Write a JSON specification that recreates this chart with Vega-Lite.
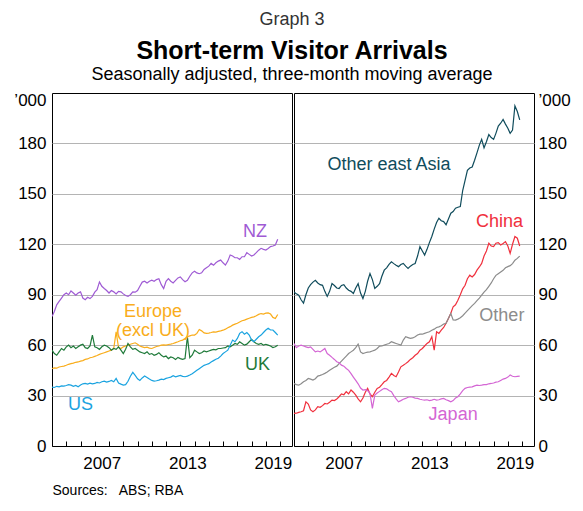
{
  "$schema": "https://vega.github.io/schema/vega-lite/v6.json",
  "background": "white",
  "padding": {"left": 13, "top": 10, "right": 5, "bottom": 5},
  "config": {
    "font": "Liberation Sans",
    "view": {"stroke": "#000000", "strokeWidth": 1},
    "concat": {"spacing": 0}
  },
  "title": {
    "text": "Graph 3",
    "subtitle": "Short-term Visitor Arrivals",
    "anchor": "middle",
    "fontSize": 18,
    "fontWeight": "normal",
    "color": "#333333",
    "subtitleFontSize": 25,
    "subtitleFontWeight": "bold",
    "subtitleColor": "#000000",
    "subtitlePadding": 10,
    "offset": 2
  },
  "datasets": {
    "arrivals": [
      {"d":"2004-01","NZ":77,"Europe":46.1,"UK":57,"US":35,"OEA":91.7,"China":19.4,"Other":37.2,"Japan":61},
      {"d":"2004-03","NZ":80,"Europe":46.5,"UK":55,"US":34.8,"OEA":90.5,"China":19.5,"Other":36.5,"Japan":58.5},
      {"d":"2004-05","NZ":84,"Europe":46.3,"UK":54,"US":35.5,"OEA":89.7,"China":20,"Other":36.2,"Japan":59.5},
      {"d":"2004-07","NZ":86,"Europe":47.0,"UK":56,"US":35.2,"OEA":87,"China":20.4,"Other":37,"Japan":60},
      {"d":"2004-09","NZ":88,"Europe":47.3,"UK":58,"US":35.8,"OEA":85,"China":21,"Other":38.2,"Japan":59.5},
      {"d":"2004-11","NZ":90,"Europe":47.5,"UK":57,"US":35.6,"OEA":90,"China":26.3,"Other":39,"Japan":59},
      {"d":"2005-01","NZ":91,"Europe":48.0,"UK":59,"US":36.0,"OEA":94,"China":25,"Other":40.2,"Japan":58.5},
      {"d":"2005-03","NZ":90,"Europe":48.6,"UK":60,"US":36.5,"OEA":96,"China":21.5,"Other":39.8,"Japan":59},
      {"d":"2005-05","NZ":92.3,"Europe":49.0,"UK":58.5,"US":36.2,"OEA":97.5,"China":20.4,"Other":39.2,"Japan":57.5},
      {"d":"2005-07","NZ":91,"Europe":49.3,"UK":59.5,"US":35.5,"OEA":98.6,"China":21.5,"Other":40,"Japan":56},
      {"d":"2005-09","NZ":89.7,"Europe":49.8,"UK":58,"US":36.0,"OEA":97,"China":23.4,"Other":41.6,"Japan":56.5},
      {"d":"2005-11","NZ":91,"Europe":50.0,"UK":59,"US":35.2,"OEA":96,"China":23,"Other":42,"Japan":56},
      {"d":"2006-01","NZ":91.7,"Europe":50.5,"UK":60,"US":36.3,"OEA":95.6,"China":24,"Other":42.5,"Japan":57},
      {"d":"2006-03","NZ":88,"Europe":50.8,"UK":60.6,"US":37.0,"OEA":92,"China":25.3,"Other":43.2,"Japan":58},
      {"d":"2006-05","NZ":87,"Europe":51.5,"UK":58.5,"US":37.2,"OEA":89,"China":25,"Other":44,"Japan":55},
      {"d":"2006-07","NZ":88.5,"Europe":51.8,"UK":58,"US":36.8,"OEA":92,"China":26,"Other":45.1,"Japan":54},
      {"d":"2006-09","NZ":87.7,"Europe":52.5,"UK":59.5,"US":37.4,"OEA":96.6,"China":27.3,"Other":46,"Japan":52.7},
      {"d":"2006-11","NZ":89,"Europe":52.8,"UK":66,"US":37.0,"OEA":95.5,"China":27,"Other":46.8,"Japan":51.5},
      {"d":"2007-01","NZ":91.5,"Europe":53.3,"UK":59,"US":37.2,"OEA":94,"China":28,"Other":47.5,"Japan":50.1},
      {"d":"2007-03","NZ":93,"Europe":53.8,"UK":58.5,"US":37.8,"OEA":93.7,"China":29.3,"Other":49,"Japan":49.5},
      {"d":"2007-05","NZ":97.6,"Europe":54.5,"UK":57.5,"US":37.5,"OEA":95.5,"China":31,"Other":50.5,"Japan":48.1},
      {"d":"2007-07","NZ":95,"Europe":55.0,"UK":59,"US":38.2,"OEA":96,"China":30.5,"Other":52,"Japan":47.5},
      {"d":"2007-09","NZ":93.7,"Europe":55.5,"UK":60,"US":38.6,"OEA":94,"China":32.3,"Other":53.5,"Japan":46.1},
      {"d":"2007-11","NZ":92.5,"Europe":56.0,"UK":59.5,"US":38.0,"OEA":92.7,"China":31,"Other":55,"Japan":45},
      {"d":"2008-01","NZ":91,"Europe":56.5,"UK":58.5,"US":38.4,"OEA":92,"China":33.3,"Other":56,"Japan":43},
      {"d":"2008-03","NZ":92.5,"Europe":57.0,"UK":57,"US":39.0,"OEA":90.7,"China":32,"Other":57,"Japan":41},
      {"d":"2008-05","NZ":91.7,"Europe":58.0,"UK":58,"US":38.2,"OEA":94,"China":30.3,"Other":58.5,"Japan":39},
      {"d":"2008-07","NZ":90.5,"Europe":67.9,"UK":57.5,"US":40.2,"OEA":96.6,"China":28,"Other":60.6,"Japan":37},
      {"d":"2008-09","NZ":92,"Europe":58.5,"UK":59,"US":37.5,"OEA":91,"China":26.3,"Other":56,"Japan":34.5},
      {"d":"2008-11","NZ":91.7,"Europe":58.0,"UK":57,"US":36.8,"OEA":87.7,"China":28.5,"Other":55,"Japan":33.3},
      {"d":"2009-01","NZ":90.5,"Europe":59.0,"UK":55,"US":36.2,"OEA":92,"China":32,"Other":55.5,"Japan":33.5},
      {"d":"2009-03","NZ":89.5,"Europe":59.5,"UK":57.5,"US":36.5,"OEA":98,"China":34.3,"Other":55.8,"Japan":33},
      {"d":"2009-05","NZ":89,"Europe":60.0,"UK":61,"US":38.5,"OEA":102.6,"China":31,"Other":56,"Japan":31.3},
      {"d":"2009-07","NZ":90,"Europe":60.5,"UK":59,"US":41.5,"OEA":99,"China":29.3,"Other":56.5,"Japan":22.4},
      {"d":"2009-09","NZ":91.7,"Europe":61.0,"UK":57.5,"US":43.8,"OEA":93.7,"China":32,"Other":57,"Japan":30.3},
      {"d":"2009-11","NZ":91.5,"Europe":61.4,"UK":58,"US":42.0,"OEA":95,"China":34.3,"Other":58,"Japan":31.5},
      {"d":"2010-01","NZ":92.5,"Europe":60.5,"UK":57,"US":40.0,"OEA":96.6,"China":35,"Other":59.4,"Japan":32.5},
      {"d":"2010-03","NZ":95,"Europe":59.5,"UK":56,"US":39.0,"OEA":101,"China":36.5,"Other":59.5,"Japan":33.5},
      {"d":"2010-05","NZ":97.5,"Europe":59.0,"UK":55.5,"US":40.5,"OEA":104.6,"China":38.2,"Other":60,"Japan":34.3},
      {"d":"2010-07","NZ":98,"Europe":58.5,"UK":55,"US":41.6,"OEA":106,"China":39,"Other":60.5,"Japan":34},
      {"d":"2010-09","NZ":97,"Europe":58.8,"UK":56,"US":40.8,"OEA":108,"China":41,"Other":61,"Japan":33},
      {"d":"2010-11","NZ":98,"Europe":58.2,"UK":54.5,"US":39.8,"OEA":109.6,"China":43.2,"Other":62,"Japan":32.3},
      {"d":"2011-01","NZ":98.6,"Europe":58.0,"UK":55,"US":39.0,"OEA":108.5,"China":42,"Other":61.5,"Japan":30},
      {"d":"2011-03","NZ":98,"Europe":58.6,"UK":54,"US":38.6,"OEA":107.5,"China":41.2,"Other":61,"Japan":28},
      {"d":"2011-05","NZ":99,"Europe":59.2,"UK":54.5,"US":38.8,"OEA":106.7,"China":44,"Other":60.5,"Japan":26.3},
      {"d":"2011-07","NZ":99.5,"Europe":59.5,"UK":55.5,"US":39.2,"OEA":108,"China":47.1,"Other":60,"Japan":27},
      {"d":"2011-09","NZ":96,"Europe":60.0,"UK":54,"US":39.8,"OEA":108.6,"China":48,"Other":63,"Japan":27.8},
      {"d":"2011-11","NZ":93.7,"Europe":60.2,"UK":53,"US":39.5,"OEA":107,"China":49,"Other":65,"Japan":28.3},
      {"d":"2012-01","NZ":98,"Europe":60.0,"UK":53.5,"US":40.2,"OEA":105.7,"China":50.1,"Other":64.5,"Japan":29},
      {"d":"2012-03","NZ":99.6,"Europe":60.4,"UK":52,"US":40.6,"OEA":107,"China":51.5,"Other":64,"Japan":29.3},
      {"d":"2012-05","NZ":98,"Europe":60.6,"UK":53,"US":41.0,"OEA":108,"China":52.5,"Other":64.3,"Japan":29},
      {"d":"2012-07","NZ":97,"Europe":61.0,"UK":52.5,"US":41.8,"OEA":108.6,"China":54,"Other":65,"Japan":28.5},
      {"d":"2012-09","NZ":98.5,"Europe":61.5,"UK":51.5,"US":41.2,"OEA":113,"China":55,"Other":66,"Japan":28.3},
      {"d":"2012-11","NZ":100,"Europe":62.0,"UK":52.7,"US":41.6,"OEA":118.6,"China":57,"Other":66.5,"Japan":27.8},
      {"d":"2013-01","NZ":100.6,"Europe":62.6,"UK":52,"US":42.0,"OEA":116,"China":58,"Other":66.5,"Japan":27.5},
      {"d":"2013-03","NZ":99,"Europe":63.0,"UK":51.5,"US":41.4,"OEA":113.6,"China":59.5,"Other":67,"Japan":27.3},
      {"d":"2013-05","NZ":97.7,"Europe":64.0,"UK":52,"US":41.2,"OEA":117,"China":61,"Other":67.5,"Japan":27.5},
      {"d":"2013-07","NZ":98.6,"Europe":65.0,"UK":65,"US":41.6,"OEA":121,"China":62,"Other":68,"Japan":27},
      {"d":"2013-09","NZ":101,"Europe":65.5,"UK":52.5,"US":42.2,"OEA":124.6,"China":65,"Other":68.9,"Japan":27.3},
      {"d":"2013-11","NZ":103,"Europe":66.0,"UK":54,"US":43.0,"OEA":129,"China":57,"Other":69.5,"Japan":27.8},
      {"d":"2014-01","NZ":104,"Europe":66.0,"UK":57,"US":44.0,"OEA":133,"China":67.9,"Other":70.5,"Japan":27.3},
      {"d":"2014-03","NZ":103,"Europe":67.0,"UK":56,"US":45.0,"OEA":135.5,"China":67,"Other":70.9,"Japan":27.5},
      {"d":"2014-05","NZ":102.5,"Europe":69.3,"UK":55,"US":46.0,"OEA":134,"China":68.9,"Other":71.5,"Japan":28},
      {"d":"2014-07","NZ":103,"Europe":68.5,"UK":55.5,"US":47.0,"OEA":133.5,"China":70.5,"Other":72.5,"Japan":28.3},
      {"d":"2014-09","NZ":105,"Europe":67.3,"UK":56.5,"US":48.0,"OEA":131.6,"China":73,"Other":73,"Japan":27.5},
      {"d":"2014-11","NZ":106,"Europe":67.0,"UK":56,"US":48.5,"OEA":135,"China":75.8,"Other":76,"Japan":27},
      {"d":"2015-01","NZ":107,"Europe":67.2,"UK":56.5,"US":49.0,"OEA":138.5,"China":79,"Other":78.8,"Japan":26.3},
      {"d":"2015-03","NZ":108.6,"Europe":67.5,"UK":57,"US":50.0,"OEA":139.5,"China":82.8,"Other":75,"Japan":27},
      {"d":"2015-05","NZ":107.5,"Europe":67.9,"UK":57.5,"US":50.8,"OEA":141.5,"China":84,"Other":74.9,"Japan":28.5},
      {"d":"2015-07","NZ":109,"Europe":67.8,"UK":57.2,"US":51.6,"OEA":142,"China":86.7,"Other":75.5,"Japan":29.3},
      {"d":"2015-09","NZ":110,"Europe":68.2,"UK":58,"US":52.2,"OEA":142.5,"China":90,"Other":76.3,"Japan":31},
      {"d":"2015-11","NZ":110.6,"Europe":68.5,"UK":58,"US":53.5,"OEA":152,"China":93.5,"Other":77.5,"Japan":33},
      {"d":"2016-01","NZ":109,"Europe":68.9,"UK":58.3,"US":55.0,"OEA":158,"China":95.6,"Other":79,"Japan":34.3},
      {"d":"2016-03","NZ":107.6,"Europe":69.5,"UK":58.5,"US":56.0,"OEA":164,"China":99.5,"Other":80.5,"Japan":34.8},
      {"d":"2016-05","NZ":110,"Europe":70.3,"UK":59.5,"US":57.0,"OEA":165.4,"China":101.6,"Other":82,"Japan":35},
      {"d":"2016-07","NZ":113.6,"Europe":71.0,"UK":59,"US":60.0,"OEA":166,"China":100.6,"Other":83.5,"Japan":35.2},
      {"d":"2016-09","NZ":113,"Europe":71.9,"UK":60,"US":63.0,"OEA":170,"China":102,"Other":84.8,"Japan":35.8},
      {"d":"2016-11","NZ":112,"Europe":72.5,"UK":61,"US":62.0,"OEA":174.4,"China":104.6,"Other":86.5,"Japan":36.2},
      {"d":"2017-01","NZ":112,"Europe":73.0,"UK":60.5,"US":64.0,"OEA":179,"China":106.5,"Other":88,"Japan":36},
      {"d":"2017-03","NZ":111,"Europe":73.8,"UK":62,"US":67.0,"OEA":182.4,"China":108.6,"Other":89.7,"Japan":36.2},
      {"d":"2017-05","NZ":112.6,"Europe":74.5,"UK":61,"US":68.0,"OEA":177.4,"China":113,"Other":91.5,"Japan":36.5},
      {"d":"2017-07","NZ":112.6,"Europe":74.9,"UK":60,"US":66.5,"OEA":181,"China":116,"Other":93,"Japan":36.5},
      {"d":"2017-09","NZ":115,"Europe":75.5,"UK":60.6,"US":67.5,"OEA":185.3,"China":120.6,"Other":95,"Japan":37},
      {"d":"2017-11","NZ":114,"Europe":76.0,"UK":62,"US":66.0,"OEA":183.5,"China":119,"Other":97,"Japan":37.2},
      {"d":"2018-01","NZ":113,"Europe":76.5,"UK":63.4,"US":63.0,"OEA":182.4,"China":118.6,"Other":99.5,"Japan":37.5},
      {"d":"2018-03","NZ":113.6,"Europe":76.8,"UK":62,"US":62.0,"OEA":186,"China":120.6,"Other":101.5,"Japan":38},
      {"d":"2018-05","NZ":115,"Europe":77.5,"UK":61,"US":63.5,"OEA":190.3,"China":121,"Other":102.5,"Japan":38.2},
      {"d":"2018-07","NZ":116.5,"Europe":78.3,"UK":60.5,"US":65.0,"OEA":192,"China":119.6,"Other":103.5,"Japan":39},
      {"d":"2018-09","NZ":117.6,"Europe":78.8,"UK":61,"US":66.0,"OEA":194.3,"China":120.5,"Other":104.5,"Japan":39.8},
      {"d":"2018-11","NZ":117,"Europe":78.5,"UK":60,"US":67.5,"OEA":191.5,"China":121.6,"Other":106,"Japan":40.2},
      {"d":"2019-01","NZ":116.6,"Europe":79.0,"UK":60.5,"US":69.0,"OEA":189,"China":119,"Other":106.7,"Japan":41},
      {"d":"2019-03","NZ":117.5,"Europe":79.2,"UK":60,"US":70.0,"OEA":186,"China":114.6,"Other":107.3,"Japan":42.2},
      {"d":"2019-05","NZ":118.6,"Europe":78.5,"UK":59.5,"US":69.0,"OEA":188,"China":120,"Other":108.5,"Japan":41.5},
      {"d":"2019-07","NZ":119,"Europe":76.5,"UK":58.6,"US":69.0,"OEA":202.3,"China":124.6,"Other":110.5,"Japan":41.2},
      {"d":"2019-09","NZ":119.6,"Europe":75.8,"UK":59,"US":67.5,"OEA":199,"China":123.6,"Other":111.6,"Japan":41.4},
      {"d":"2019-11","NZ":123,"Europe":78.2,"UK":60,"US":66.0,"OEA":194,"China":119,"Other":113,"Japan":41.6}
    ],
    "labels": [
      {"panel":"left","series":"NZ","label":"NZ","d":"2018-04","value":127.3},
      {"panel":"left","series":"Europe","label":"Europe\n(excl UK)","d":"2011-02","value":80.0},
      {"panel":"left","series":"UK","label":"UK","d":"2018-06","value":47.9},
      {"panel":"left","series":"US","label":"US","d":"2006-01","value":24.1},
      {"panel":"right","series":"OEA","label":"Other east Asia","d":"2010-09","value":166.9},
      {"panel":"right","series":"China","label":"China","d":"2018-06","value":133.3},
      {"panel":"right","series":"Other","label":"Other","d":"2018-08","value":77.3},
      {"panel":"right","series":"Japan","label":"Japan","d":"2015-03","value":18.4}
    ]
  },
  "vconcat": [
    {
      "title": {
        "text": "Seasonally adjusted, three-month moving average",
        "anchor": "middle",
        "fontSize": 18,
        "fontWeight": "normal",
        "color": "#000000",
        "offset": 7
      },
      "spacing": 0,
      "hconcat": [
        {
          "width": 240,
          "height": 353,
          "encoding": {
            "x": {
              "field": "d",
              "type": "temporal",
              "scale": {"domain": [{"year": 2004, "month": 1, "date": 1}, {"year": 2020, "month": 11, "date": 1}]},
              "axis": {
                "values": [{"year":2004},{"year":2005},{"year":2006},{"year":2007},{"year":2008},{"year":2009},{"year":2010},{"year":2011},{"year":2012},{"year":2013},{"year":2014},{"year":2015},{"year":2016},{"year":2017},{"year":2018},{"year":2019},{"year":2020}],
                "labelExpr": "indexof([2007, 2013, 2019], year(datum.value)) >= 0 ? timeFormat(datum.value, '%Y') : ''",
                "labelOffset": 7,
                "tickSize": -5,
                "tickColor": "#000000",
                "tickWidth": 1,
                "labelPadding": 14,
                "labelFontSize": 17,
                "labelColor": "#000000",
                "labelFlush": false,
                "labelOverlap": false,
                "labelBound": false,
                "grid": false,
                "domain": false,
                "title": "Sources:\u00a0\u00a0 ABS; RBA",
                "titleFontSize": 14,
                "titleFontWeight": "normal",
                "titleColor": "#000000",
                "titleAnchor": "start",
                "titleAlign": "left",
                "titlePadding": 12
              }
            },
            "y": {
              "field": "value",
              "type": "quantitative",
              "scale": {"domain": [0, 210], "nice": false, "zero": true},
              "axis": {
                "orient": "left",
                "values": [0, 30, 60, 90, 120, 150, 180, 210],
                "labelExpr": "datum.value == 210 ? '’000' : datum.label",
                "ticks": false,
                "domain": false,
                "grid": true,
                "gridColor": {"condition": {"test": "datum.value == 0 || datum.value == 210", "value": "rgba(0,0,0,0)"}, "value": "#b4b4b4"},
                "labelOffset": {"condition": {"test": "datum.value == 210", "value": 7}, "value": 0},
                "labelPadding": 6,
                "labelFontSize": 17,
                "labelColor": "#000000",
                "labelFlush": false,
                "labelOverlap": false,
                "labelBound": false,
                "title": null
              }
            },
            "color": {
              "field": "series",
              "type": "nominal",
              "scale": {
                "domain": ["NZ", "Europe", "UK", "US", "OEA", "China", "Other", "Japan"],
                "range": ["#9f5bd4", "#f9ad1c", "#1f7a3a", "#1aa3e0", "#104c5c", "#f0303d", "#8c8c8c", "#d466d4"]
              },
              "legend": null
            }
          },
          "layer": [
            {
              "data": {"name": "arrivals"},
              "transform": [{"fold": ["NZ", "Europe", "UK", "US"], "as": ["series", "value"]}],
              "mark": {"type": "line", "strokeWidth": 1.2, "clip": true}
            },
            {
              "data": {"name": "labels"},
              "transform": [{"filter": "datum.panel == 'left'"}],
              "mark": {"type": "text", "fontSize": 18, "lineBreak": "\n", "lineHeight": 19, "align": "center", "baseline": "middle"},
              "encoding": {"text": {"field": "label", "type": "nominal"}}
            }
          ]
        },
        {
          "width": 240,
          "height": 353,
          "encoding": {
            "x": {
              "field": "d",
              "type": "temporal",
              "scale": {"domain": [{"year": 2004, "month": 1, "date": 1}, {"year": 2020, "month": 11, "date": 1}]},
              "axis": {
                "values": [{"year":2004},{"year":2005},{"year":2006},{"year":2007},{"year":2008},{"year":2009},{"year":2010},{"year":2011},{"year":2012},{"year":2013},{"year":2014},{"year":2015},{"year":2016},{"year":2017},{"year":2018},{"year":2019},{"year":2020}],
                "labelExpr": "indexof([2007, 2013, 2019], year(datum.value)) >= 0 ? timeFormat(datum.value, '%Y') : ''",
                "labelOffset": 7,
                "tickSize": -5,
                "tickColor": "#000000",
                "tickWidth": 1,
                "labelPadding": 14,
                "labelFontSize": 17,
                "labelColor": "#000000",
                "labelFlush": false,
                "labelOverlap": false,
                "labelBound": false,
                "grid": false,
                "domain": false,
                "title": null
              }
            },
            "y": {
              "field": "value",
              "type": "quantitative",
              "scale": {"domain": [0, 210], "nice": false, "zero": true},
              "axis": {
                "orient": "right",
                "values": [0, 30, 60, 90, 120, 150, 180, 210],
                "labelExpr": "datum.value == 210 ? '’000' : datum.label",
                "ticks": false,
                "domain": false,
                "grid": true,
                "gridColor": {"condition": {"test": "datum.value == 0 || datum.value == 210", "value": "rgba(0,0,0,0)"}, "value": "#b4b4b4"},
                "labelOffset": {"condition": {"test": "datum.value == 210", "value": 7}, "value": 0},
                "labelPadding": 4,
                "labelFontSize": 17,
                "labelColor": "#000000",
                "labelFlush": false,
                "labelOverlap": false,
                "labelBound": false,
                "title": null
              }
            },
            "color": {
              "field": "series",
              "type": "nominal",
              "scale": {
                "domain": ["NZ", "Europe", "UK", "US", "OEA", "China", "Other", "Japan"],
                "range": ["#9f5bd4", "#f9ad1c", "#1f7a3a", "#1aa3e0", "#104c5c", "#f0303d", "#8c8c8c", "#d466d4"]
              },
              "legend": null
            }
          },
          "layer": [
            {
              "data": {"name": "arrivals"},
              "transform": [{"fold": ["OEA", "China", "Other", "Japan"], "as": ["series", "value"]}],
              "mark": {"type": "line", "strokeWidth": 1.2, "clip": true}
            },
            {
              "data": {"name": "labels"},
              "transform": [{"filter": "datum.panel == 'right'"}],
              "mark": {"type": "text", "fontSize": 18, "lineBreak": "\n", "lineHeight": 19, "align": "center", "baseline": "middle"},
              "encoding": {"text": {"field": "label", "type": "nominal"}}
            }
          ]
        }
      ]
    }
  ]
}
